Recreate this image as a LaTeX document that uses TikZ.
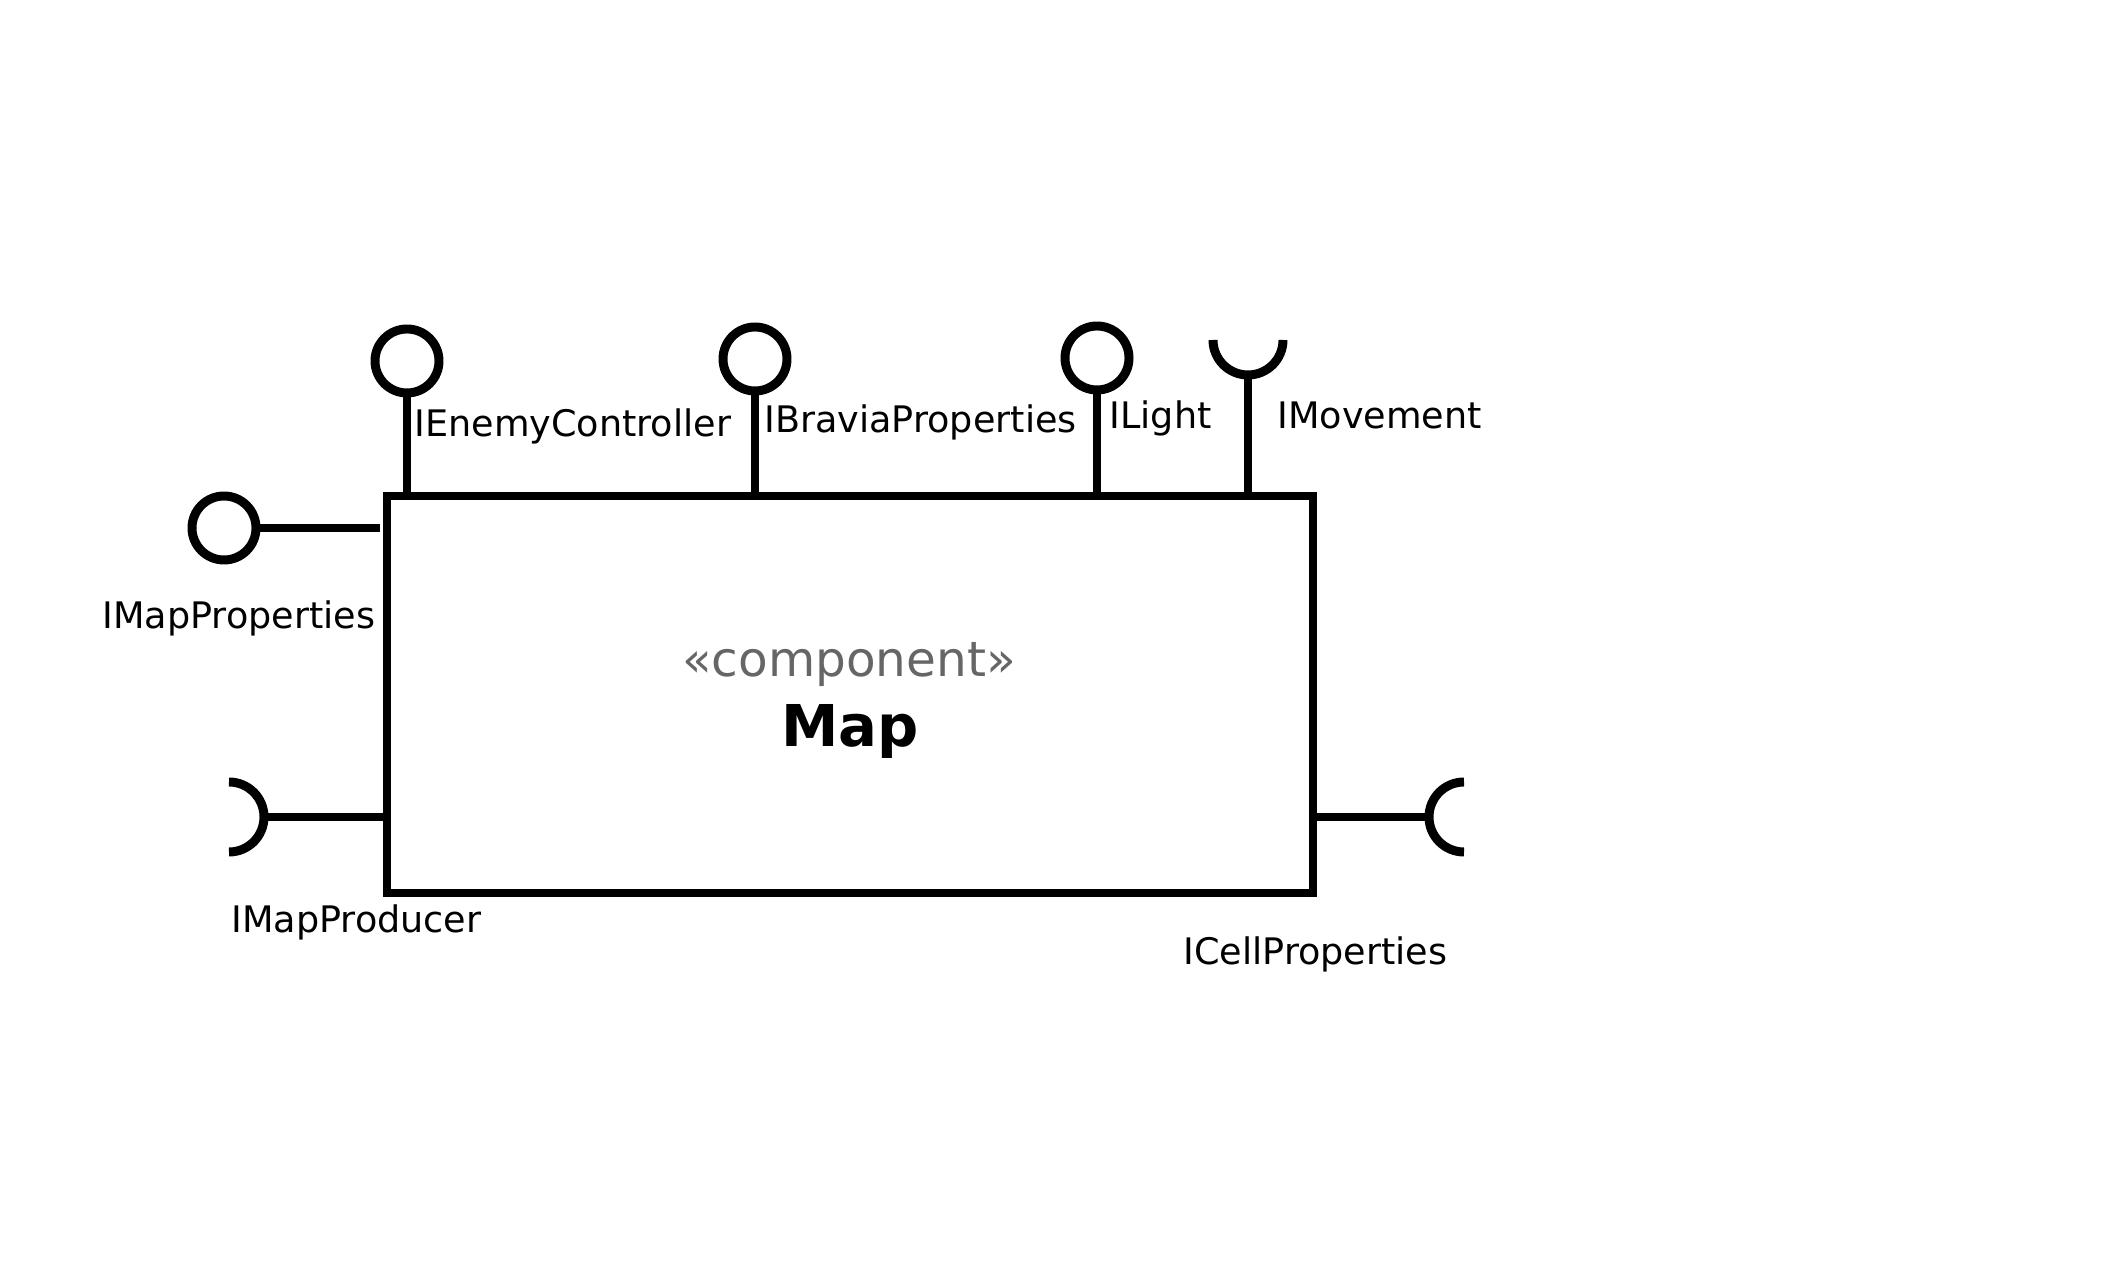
\documentclass[tikz,border=0pt]{standalone}
\usepackage{fontspec}
\setmainfont{DejaVu Sans}
\usetikzlibrary{positioning,calc}
\tikzset{
	uml/.style={line width=2.55pt},
	component/.style={rectangle,draw,minimum width=9.26cm,minimum height=3.97cm,inner sep=0},
	ball/.style={circle,draw,minimum size=0.64cm,inner sep=0},
	iface/.style={inner sep=0,anchor=base west,font=\fontsize{10.4}{12}\selectfont},
	stereo/.style={inner sep=0,anchor=base,text=black!60,font=\fontsize{13.8}{16}\selectfont},
	title/.style={inner sep=0,anchor=base,font=\bfseries\fontsize{16.4}{19}\selectfont}
}

\begin{document}
\begin{tikzpicture}[uml]
\useasboundingbox (0,0) rectangle (21.13,-12.80);

\node[component] (map) at (8.50,-6.945) {};
\node[stereo] (st) at (8.49,-6.77) {«component»};
\node[title] (name) at (8.50,-7.47) {Map};

% provided interfaces
\node[ball] (prop) at (2.24,-5.28) {};
\node[ball] (enemy) at (4.07,-3.61) {};
\node[ball] (bravia) at (7.55,-3.59) {};
\node[ball] (light) at (10.97,-3.58) {};

\path (prop) edge[shorten >=0.03cm] (map.west |- prop);
\path (enemy) edge (enemy |- map.north);
\path (bravia) edge (bravia |- map.north);
\path (light) edge (light |- map.north);

% required interfaces
\coordinate (mov) at (12.48,-3.75);
\coordinate (prod) at (2.64,-8.17);
\coordinate (cell) at (14.29,-8.17);

\path (mov) edge (mov |- map.north);
\path (prod) edge (map.west |- prod);
\path (cell) edge (map.east |- cell);
\draw ([shift={(-0.35,0.35)}]mov) arc[start angle=180,end angle=360,radius=0.35cm];
\draw ([shift={(-0.35,0.35)}]prod) arc[start angle=90,end angle=-90,radius=0.35cm];
\draw ([shift={(0.35,0.35)}]cell) arc[start angle=90,end angle=270,radius=0.35cm];

% labels
\node[iface] (propl) at (0.98,-6.29) {IMapProperties};
\node[iface] (enemyl) at (4.10,-4.37) {IEnemyController};
\node[iface] (braval) at (7.60,-4.33) {IBraviaProperties};
\node[iface] (lightl) at (11.05,-4.29) {ILight};
\node[iface] (movl) at (12.73,-4.29) {IMovement};
\node[iface] (prodl) at (2.27,-9.33) {IMapProducer};
\node[iface] (celll) at (11.79,-9.65) {ICellProperties};
\end{tikzpicture}
\end{document}
